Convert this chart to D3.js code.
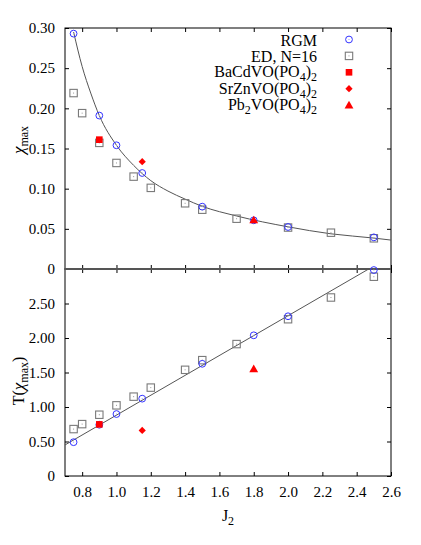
<!DOCTYPE html>
<html>
<head>
<meta charset="utf-8">
<script src="https://cdn.jsdelivr.net/npm/d3@7"></script>
<style>
  body { margin: 0; background: #fff; }
  text { font-family: "Liberation Serif", "DejaVu Serif", serif; fill: #000; }
</style>
</head>
<body>
<svg width="421" height="545"></svg>
<script>
// values
var j2Rgm = [0.75, 0.9, 1.0, 1.15, 1.5, 1.8, 2.0, 2.5],
    chiRgm = [0.293, 0.191, 0.154, 0.1195, 0.0776, 0.0606, 0.0523, 0.0394],
    tRgm = [0.49, 0.743, 0.898, 1.121, 1.626, 2.039, 2.315, 2.985];

var j2Ed = [0.75, 0.8, 0.9, 1.0, 1.1, 1.2, 1.4, 1.5, 1.7, 2.0, 2.25, 2.5],
    chiEd = [0.219, 0.194, 0.157, 0.132, 0.115, 0.101, 0.0818, 0.0738, 0.0626, 0.0516, 0.0452, 0.0382],
    tEd = [0.68, 0.752, 0.888, 1.024, 1.15, 1.281, 1.539, 1.679, 1.912, 2.272, 2.587, 2.888];

var compounds = ["BaCdVO(PO4)2", "SrZnVO(PO4)2", "Pb2VO(PO4)2"],
    j2Comp = [0.9, 1.15, 1.8],
    chiComp = [0.161, 0.1336, 0.061],
    tComp = [0.748, 0.66, 1.553];

// fitted curves (top, bottom: straight line ends)
var fitJ2 = [0.75, 0.8, 0.85, 0.9, 1.0, 1.1, 1.2, 1.3, 1.4, 1.5, 1.7, 2.0, 2.25, 2.5, 2.6],
    fitChi = [0.295, 0.252, 0.219, 0.191, 0.154, 0.129, 0.110, 0.097, 0.087, 0.078, 0.066, 0.0525, 0.0438, 0.0385, 0.0360];
var lineJ2 = [0.7, 2.47],
    lineT = [0.45, 3.0];

var xTicks = [0.8, 1.0, 1.2, 1.4, 1.6, 1.8, 2.0, 2.2, 2.4, 2.6],
    chiTicks = [0, 0.05, 0.10, 0.15, 0.20, 0.25, 0.30],
    tTicks = [0, 0.5, 1.0, 1.5, 2.0, 2.5, 3.0];

var svg = d3.select("svg"),
    left = 65, right = 391,
    top1 = 28, mid = 269, bot = 476,
    serif = "Liberation Serif, DejaVu Serif, serif";

var x = d3.scaleLinear().domain([0.7, 2.6]).range([left, right]),
    y1 = d3.scaleLinear().domain([0, 0.3]).range([mid, top1]),
    y2 = d3.scaleLinear().domain([0, 3.0]).range([bot, mid]);

var gray = "#555", blue = "#3333ff", red = "#ff0000", sqGray = "#7a7a7a";

function panel(y, yTicks, yFmt, showX) {
  var g = svg.append("g");
  var ticksStyle = function(sel) {
    sel.attr("font-family", serif).attr("font-size", 15);
    sel.select(".domain").remove();
    sel.selectAll(".tick line").attr("stroke", "#000");
  };
  g.append("g").attr("transform", "translate(" + left + ",0)")
    .call(d3.axisLeft(y).tickValues(yTicks).tickFormat(yFmt).tickSizeInner(-4).tickSizeOuter(0).tickPadding(10))
    .call(ticksStyle);
  g.append("g").attr("transform", "translate(" + right + ",0)")
    .call(d3.axisRight(y).tickValues(yTicks).tickFormat("").tickSizeInner(-4).tickSizeOuter(0))
    .call(ticksStyle);
  g.append("g").attr("transform", "translate(0," + y.range()[0] + ")")
    .call(d3.axisBottom(x).tickValues(xTicks).tickFormat(showX ? d3.format(".1f") : "").tickSizeInner(-4).tickSizeOuter(0).tickPadding(10))
    .call(ticksStyle);
  g.append("g").attr("transform", "translate(0," + y.range()[1] + ")")
    .call(d3.axisTop(x).tickValues(xTicks).tickFormat("").tickSizeInner(-4).tickSizeOuter(0))
    .call(ticksStyle);
  g.selectAll("text").attr("fill", "#000");
  return g;
}

var fmtChi = function(d) { return d === 0 ? "0" : d3.format(".2f")(d); };
var fmtT = function(d) { return d === 0 ? "" : (d === 3 ? "" : d3.format(".2f")(d)); };
panel(y1, chiTicks, fmtChi, false);
panel(y2, tTicks, fmtT, true);

// bottom panel "0" label
svg.append("text").attr("x", left - 10).attr("y", bot + 5).attr("text-anchor", "end")
  .style("font-size", "15px").text("0");

// frames
svg.append("rect").attr("x", left).attr("y", top1).attr("width", right - left).attr("height", mid - top1)
  .attr("fill", "none").attr("stroke", "#000").attr("stroke-width", 1);
svg.append("rect").attr("x", left).attr("y", mid).attr("width", right - left).attr("height", bot - mid)
  .attr("fill", "none").attr("stroke", "#000").attr("stroke-width", 1);
svg.append("line").attr("x1", left).attr("x2", right).attr("y1", mid).attr("y2", mid)
  .attr("stroke", "#555").attr("stroke-width", 2);

// fit lines
svg.append("path")
  .datum(d3.zip(fitJ2, fitChi))
  .attr("fill", "none").attr("stroke", gray).attr("stroke-width", 1)
  .attr("d", d3.line().x(d => x(d[0])).y(d => y1(d[1])).curve(d3.curveMonotoneX));
svg.append("path")
  .datum(d3.zip(lineJ2, lineT))
  .attr("fill", "none").attr("stroke", gray).attr("stroke-width", 1)
  .attr("d", d3.line().x(d => x(d[0])).y(d => y2(d[1])));

// markers
function square(g, cx, cy) {
  g.append("rect").attr("x", cx - 3.7).attr("y", cy - 3.7).attr("width", 7.4).attr("height", 7.4)
    .attr("fill", "none").attr("stroke", sqGray).attr("stroke-width", 1.1);
  g.append("rect").attr("x", cx - 0.5).attr("y", cy - 0.5).attr("width", 1).attr("height", 1).attr("fill", "#999");
}
function circle(g, cx, cy) {
  g.append("circle").attr("cx", cx).attr("cy", cy).attr("r", 3.4)
    .attr("fill", "none").attr("stroke", blue).attr("stroke-width", 1);
  g.append("rect").attr("x", cx - 0.5).attr("y", cy - 0.5).attr("width", 1).attr("height", 1).attr("fill", "#99f");
}
var shapes = [d3.symbolSquare, d3.symbolSquare, d3.symbolTriangle],
    sizes = [44, 26, 34],
    rots = [0, 45, 0];
function compound(g, i, cx, cy) {
  g.append("path").attr("transform", "translate(" + cx + "," + (cy + (i === 2 ? 0.8 : 0)) + ") rotate(" + rots[i] + ")")
    .attr("d", d3.symbol().type(shapes[i]).size(sizes[i])())
    .attr("fill", red);
}

var marks = svg.append("g");
j2Ed.forEach(function(j, i) { square(marks, x(j), y1(chiEd[i])); square(marks, x(j), y2(tEd[i])); });
j2Rgm.forEach(function(j, i) { circle(marks, x(j), y1(chiRgm[i])); circle(marks, x(j), y2(tRgm[i])); });
j2Comp.forEach(function(j, i) { compound(marks, i, x(j), y1(chiComp[i])); compound(marks, i, x(j), y2(tComp[i])); });

// legend
var legX = 317, symX = 349, row0 = 39.5, rowH = 16.4;
var leg = svg.append("g").style("font-size", "16px");
function subText(t, str) {
  // split chemical formula into normal and subscript parts
  var parts = str.match(/[A-Za-z()]+|\d+/g);
  var sub = false;
  parts.forEach(function(p) {
    var isNum = /^\d+$/.test(p);
    var ts = t.append("tspan").text(p);
    if (isNum && !sub) { ts.attr("dy", 4).style("font-size", "12px"); sub = true; }
    else if (!isNum && sub) { ts.attr("dy", -4); sub = false; }
    else if (isNum) ts.style("font-size", "12px");
  });
}
leg.append("text").attr("x", legX).attr("y", row0 + 6.5).attr("text-anchor", "end").text("RGM");
circle(leg, symX, row0);
leg.append("text").attr("x", legX).attr("y", row0 + rowH + 6).attr("text-anchor", "end").text("ED, N=16");
square(leg, symX, row0 + rowH);
compounds.forEach(function(name, i) {
  var cy = row0 + rowH * (i + 2);
  var t = leg.append("text").attr("x", legX).attr("y", cy + 5).attr("text-anchor", "end");
  subText(t, name);
  compound(leg, i, symX, cy);
});

// axis titles
var yt1 = svg.append("text").attr("transform", "translate(24,140) rotate(-90)")
  .attr("text-anchor", "middle").style("font-size", "17px");
yt1.append("tspan").style("font-style", "italic").text("χ");
yt1.append("tspan").attr("dy", 4).style("font-size", "12px").text("max");

var yt2 = svg.append("text").attr("transform", "translate(24,381) rotate(-90)")
  .attr("text-anchor", "middle").style("font-size", "16px");
yt2.append("tspan").text("T(");
yt2.append("tspan").style("font-style", "italic").style("font-size", "17px").text("χ");
yt2.append("tspan").attr("dy", 4).style("font-size", "12px").text("max");
yt2.append("tspan").attr("dy", -4).text(")");

var xt = svg.append("text").attr("x", 228).attr("y", 521).attr("text-anchor", "middle").style("font-size", "16px");
xt.append("tspan").text("J");
xt.append("tspan").attr("dy", 4).style("font-size", "12px").text("2");
</script>
</body>
</html>
